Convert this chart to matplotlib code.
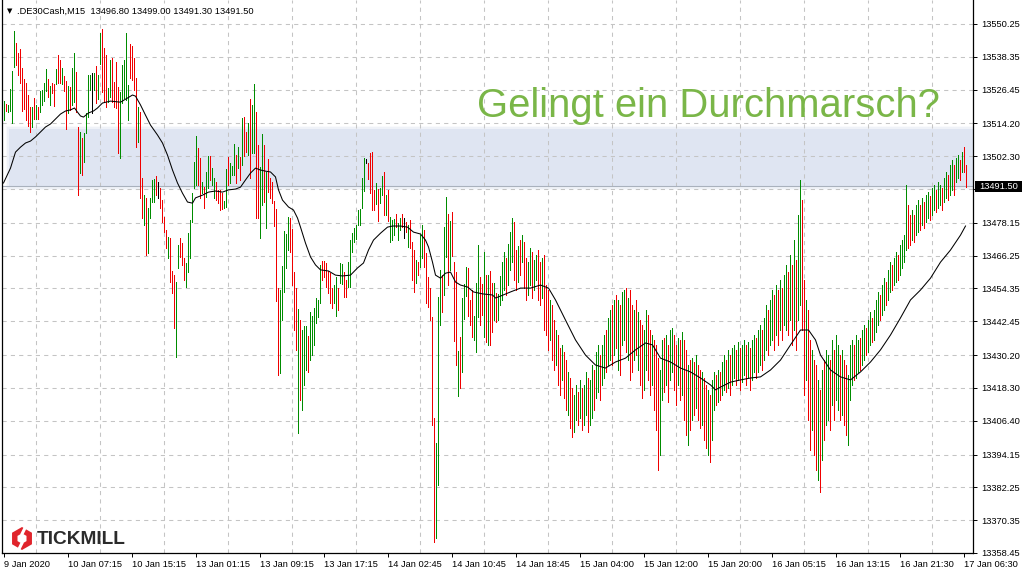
import numpy as np
import matplotlib
matplotlib.use("Agg")
import matplotlib.pyplot as plt
from matplotlib.patches import Rectangle, RegularPolygon, Polygon

# ---------------- data (M15 bars, DE30Cash) ----------------
A_high = [13522.3, 13521.2, 13521.0, 13526.7, 13533.2, 13547.7, 13543.4, 13539.7, 13541.2, 13534.3, 13530.3, 13528.9, 13524.5, 13520.2, 13520.2, 13523.4, 13520.9, 13520.2, 13526.0, 13526.3, 13528.9, 13533.9, 13530.3, 13527.8, 13528.9, 13528.5, 13533.9, 13539.0, 13537.2, 13534.3, 13531.4, 13529.6, 13527.8, 13527.4, 13534.3, 13539.7, 13532.8, 13512.9, 13511.1, 13508.9, 13510.7, 13518.0, 13531.8, 13531.8, 13532.5, 13532.5, 13535.0, 13531.8, 13547.0]
A_low = [13515.4, 13518.7, 13518.3, 13518.7, 13514.4, 13534.6, 13535.4, 13531.8, 13528.9, 13518.7, 13519.4, 13515.4, 13513.3, 13511.1, 13512.9, 13515.8, 13515.8, 13515.8, 13518.3, 13520.9, 13522.3, 13526.0, 13523.8, 13520.9, 13525.2, 13520.5, 13528.5, 13528.9, 13528.9, 13528.5, 13526.0, 13512.2, 13518.0, 13519.1, 13520.9, 13521.9, 13518.3, 13488.2, 13496.2, 13495.5, 13500.2, 13510.7, 13516.5, 13526.3, 13518.0, 13526.3, 13521.6, 13523.1, 13535.7]
A_dir = "GRGGGGRRRRRRRRGRGRGGGGRGRRGRRGRRGRGGRRGRGGGGKGRGG"

B_high = [13548.4, 13541.5, 13539.0, 13527.0, 13537.2, 13537.9, 13529.2, 13536.5, 13527.4, 13525.6, 13535.4, 13537.2, 13547.0, 13528.1, 13543.0, 13542.3, 13537.9, 13530.7, 13520.2, 13518.3, 13494.4, 13488.2, 13487.2, 13483.5, 13487.2, 13493.7, 13494.0, 13495.1, 13492.9, 13490.8, 13486.4, 13480.3, 13475.6, 13473.0, 13472.6, 13460.7, 13459.2, 13456.7, 13470.1, 13472.6, 13470.8, 13465.4, 13463.6, 13474.4, 13479.2, 13489.0, 13500.2, 13509.6, 13505.3, 13501.7]
B_low = [13525.6, 13521.9, 13520.2, 13521.9, 13523.8, 13521.9, 13520.2, 13519.8, 13503.5, 13501.7, 13521.6, 13523.4, 13522.7, 13515.4, 13530.7, 13529.9, 13526.3, 13505.7, 13507.5, 13487.2, 13479.9, 13477.4, 13466.5, 13467.2, 13479.9, 13485.7, 13485.7, 13488.2, 13487.2, 13483.5, 13478.5, 13474.8, 13469.0, 13465.4, 13456.7, 13452.7, 13440.0, 13429.5, 13461.8, 13465.8, 13462.9, 13457.4, 13454.9, 13460.4, 13465.4, 13478.5, 13490.8, 13491.9, 13491.9, 13487.2]
B_dir = "RRRGGRRRRGGGGGRRRRGRRGRGGGGRKRRRRGRRRGGRRRGGGGGGRR"

C_high = [13492.9, 13491.1, 13496.6, 13502.4, 13502.4, 13498.0, 13494.4, 13492.9, 13490.1, 13490.1, 13489.0, 13486.1, 13497.7, 13502.0, 13499.8, 13498.8, 13506.7, 13502.7, 13505.6, 13502.0, 13516.2, 13516.5, 13511.1, 13514.3, 13523.1, 13520.9, 13528.5, 13518.3, 13506.4, 13498.4, 13510.4, 13506.4, 13496.6, 13501.3, 13494.4, 13492.9, 13486.1, 13483.2, 13454.5, 13453.8, 13462.5, 13475.2, 13474.1, 13480.3, 13479.9, 13475.9, 13460.3, 13454.5, 13446.9, 13442.9]
C_low = [13488.9, 13483.5, 13487.5, 13490.8, 13493.7, 13491.9, 13487.2, 13486.4, 13485.3, 13482.8, 13483.2, 13483.5, 13483.9, 13491.9, 13492.6, 13495.5, 13495.5, 13492.6, 13498.0, 13493.7, 13499.1, 13502.4, 13503.8, 13502.7, 13494.4, 13503.5, 13503.5, 13479.9, 13479.9, 13472.6, 13484.6, 13485.7, 13476.3, 13489.3, 13487.2, 13485.3, 13477.0, 13449.8, 13423.0, 13423.7, 13442.9, 13453.1, 13461.8, 13468.3, 13467.6, 13455.6, 13439.3, 13432.1, 13401.9, 13413.9]
C_dir = "GRGGRGGRRRRGGRGGGRGRGRRGRGGRRGGRGRRRRRRGGGGGRRRRGR"

D_high = [13439.3, 13440.7, 13440.7, 13437.1, 13445.8, 13444.4, 13447.3, 13450.9, 13450.2, 13462.9, 13464.3, 13464.3, 13463.6, 13460.7, 13460.0, 13454.5, 13455.6, 13458.5, 13454.5, 13463.6, 13463.2, 13460.3, 13457.4, 13463.9, 13471.9, 13474.4, 13476.3, 13477.4, 13482.8, 13483.2, 13494.4, 13501.7, 13501.3, 13499.8, 13503.5, 13503.8, 13490.1, 13492.6, 13490.4, 13490.8, 13495.1, 13496.6, 13488.2, 13490.1, 13480.3, 13479.2, 13479.5, 13481.4, 13478.1, 13479.9]
D_low = [13410.3, 13419.4, 13424.8, 13424.1, 13428.4, 13430.2, 13433.9, 13441.8, 13444.0, 13449.1, 13457.4, 13458.5, 13454.9, 13452.7, 13449.1, 13447.3, 13449.1, 13444.4, 13446.6, 13456.3, 13456.0, 13451.3, 13451.3, 13454.9, 13454.9, 13467.6, 13471.2, 13472.3, 13477.4, 13477.4, 13483.5, 13489.7, 13499.8, 13494.0, 13488.9, 13482.8, 13482.8, 13485.0, 13478.8, 13485.3, 13488.2, 13481.0, 13481.0, 13478.8, 13471.2, 13471.9, 13473.7, 13476.6, 13471.9, 13475.6]
D_dir = "GGGRGGGGGGRRRRRRGGRGGRRGGGGGGGGGKRRRRGRGGRGRGGGRGG"

E_high = [13481.4, 13479.9, 13478.5, 13477.4, 13479.2, 13471.2, 13468.3, 13464.7, 13463.9, 13473.7, 13477.4, 13475.6, 13467.2, 13458.5, 13454.5, 13444.0, 13407.4, 13398.3, 13451.3, 13461.1, 13459.2, 13476.6, 13487.5, 13481.4, 13478.8, 13482.1, 13463.9, 13460.3, 13431.7, 13436.7, 13450.9, 13456.0, 13462.1, 13461.8, 13450.2, 13453.8, 13444.4, 13456.3, 13470.1, 13458.5, 13456.0, 13467.6, 13459.2, 13459.2, 13460.7, 13456.3, 13456.3, 13452.7, 13452.3, 13458.8]
E_low = [13476.6, 13472.6, 13474.8, 13469.4, 13469.0, 13457.4, 13453.1, 13456.3, 13459.2, 13462.1, 13465.4, 13462.1, 13449.1, 13447.6, 13442.9, 13404.8, 13362.4, 13363.9, 13383.1, 13441.1, 13445.8, 13452.0, 13465.8, 13455.6, 13461.1, 13466.1, 13435.3, 13426.6, 13415.4, 13418.3, 13424.1, 13443.3, 13451.6, 13444.4, 13441.1, 13436.7, 13435.7, 13431.3, 13444.0, 13441.1, 13444.7, 13436.7, 13434.9, 13433.9, 13433.9, 13438.6, 13442.9, 13442.2, 13442.9, 13448.4]
E_dir = "RKRGRRRGRGGRRRRRRGGGRGGRGRRRGRGGGRRRGGGRRGRGRRGRGG"

F_high = [13463.9, 13467.6, 13465.4, 13470.5, 13474.8, 13479.9, 13478.5, 13468.3, 13469.8, 13471.9, 13473.7, 13471.2, 13465.4, 13463.9, 13469.0, 13467.6, 13464.7, 13466.5, 13468.3, 13463.9, 13465.4, 13466.5, 13455.6, 13453.8, 13450.2, 13448.4, 13442.9, 13439.3, 13437.5, 13432.8, 13433.9, 13431.3, 13428.4, 13424.1, 13421.9, 13418.3, 13415.7, 13419.4, 13416.8, 13421.2, 13418.3, 13419.4, 13424.1, 13421.9, 13421.2, 13426.6, 13424.8, 13431.3, 13433.9, 13430.2]
F_low = [13450.2, 13453.8, 13452.0, 13455.6, 13461.1, 13463.9, 13457.4, 13453.8, 13456.7, 13459.2, 13463.9, 13454.5, 13450.2, 13452.0, 13455.6, 13450.9, 13453.8, 13457.4, 13450.2, 13448.4, 13450.9, 13439.3, 13437.5, 13432.1, 13435.7, 13428.4, 13424.8, 13426.6, 13419.4, 13415.7, 13421.2, 13414.6, 13410.3, 13408.5, 13403.8, 13400.5, 13402.3, 13406.7, 13404.9, 13407.4, 13403.1, 13404.9, 13408.5, 13402.3, 13404.9, 13407.4, 13410.3, 13414.6, 13416.8, 13413.9]
F_dir = "GGRGGGRRGRGRRGGRGGRRGRRRGRRGRRGRRGRRGGRGRGGRGGRGGR"

G_high = [13433.9, 13437.5, 13439.3, 13443.7, 13446.6, 13448.4, 13450.2, 13452.0, 13450.2, 13448.4, 13453.1, 13453.8, 13454.5, 13450.9, 13453.8, 13448.4, 13446.6, 13450.2, 13445.8, 13442.9, 13441.1, 13439.3, 13446.6, 13444.7, 13439.3, 13437.5, 13435.7, 13433.9, 13429.1, 13424.8, 13435.7, 13436.4, 13437.5, 13433.9, 13439.3, 13440.0, 13437.5, 13433.9, 13436.4, 13435.7, 13438.6, 13435.7, 13432.1, 13426.6, 13428.4, 13429.1, 13427.7, 13430.2, 13426.6, 13424.8]
G_low = [13419.4, 13421.9, 13424.1, 13426.6, 13428.4, 13426.6, 13430.2, 13432.8, 13424.8, 13423.0, 13433.9, 13435.7, 13431.3, 13428.4, 13421.2, 13424.1, 13428.4, 13430.2, 13424.8, 13419.4, 13414.6, 13417.6, 13424.8, 13421.2, 13415.7, 13419.4, 13410.3, 13403.1, 13388.6, 13394.0, 13413.9, 13416.8, 13419.4, 13413.2, 13421.2, 13424.1, 13417.6, 13412.1, 13419.4, 13413.9, 13415.7, 13406.7, 13401.2, 13397.6, 13403.1, 13406.7, 13408.5, 13411.0, 13406.7, 13403.8]
G_dir = "GGRGGRGRGRGGRGRRGRGRRGGRRGRRRGGRGRGGRRGRGRRGRGRGRR"

H_high = [13424.1, 13421.9, 13419.4, 13417.6, 13415.7, 13421.2, 13424.1, 13423.0, 13424.8, 13424.1, 13427.7, 13430.2, 13428.4, 13432.1, 13430.2, 13432.8, 13433.9, 13432.1, 13434.9, 13432.8, 13433.9, 13435.7, 13433.9, 13434.9, 13432.8, 13435.7, 13437.5, 13436.4, 13439.3, 13441.1, 13439.3, 13443.7, 13448.4, 13446.6, 13450.2, 13453.8, 13452.0, 13455.6, 13453.8, 13457.4, 13454.5, 13459.2, 13462.9, 13460.3, 13466.5, 13462.9, 13471.9, 13464.7, 13481.0, 13493.7]
H_low = [13404.9, 13399.4, 13396.5, 13394.0, 13391.4, 13399.4, 13410.3, 13412.1, 13413.2, 13413.9, 13415.7, 13417.6, 13416.8, 13418.3, 13415.7, 13419.4, 13421.9, 13419.4, 13421.2, 13417.6, 13420.4, 13423.0, 13419.4, 13421.9, 13417.6, 13421.2, 13424.1, 13421.9, 13424.1, 13426.6, 13424.8, 13428.4, 13432.1, 13430.2, 13433.9, 13435.7, 13432.1, 13437.5, 13433.9, 13439.3, 13435.7, 13441.1, 13439.3, 13437.5, 13442.9, 13433.9, 13439.3, 13432.1, 13442.9, 13448.4]
H_dir = "GRRGRGGRGRGGRGRGGRGRGGRGRGGRGGRGGRGGRGRGRGGRGRGRGG"

I_high = [13486.4, 13457.4, 13450.2, 13446.6, 13435.7, 13432.1, 13428.4, 13426.6, 13421.2, 13417.6, 13424.8, 13428.4, 13432.1, 13430.2, 13428.4, 13435.7, 13432.1, 13437.5, 13433.9, 13430.2, 13432.1, 13428.4, 13426.6, 13423.0, 13433.9, 13435.7, 13433.9, 13437.5, 13435.7, 13436.4, 13439.3, 13441.1, 13440.0, 13442.9, 13445.8, 13443.7, 13446.6, 13450.2, 13453.1, 13452.0, 13455.6, 13458.1, 13456.7, 13461.1, 13463.9, 13462.9, 13465.4, 13467.6, 13466.5, 13470.1]
I_low = [13439.3, 13415.7, 13421.2, 13406.7, 13395.8, 13403.1, 13394.0, 13388.6, 13384.9, 13380.6, 13392.2, 13399.4, 13404.9, 13406.7, 13403.1, 13412.1, 13406.7, 13413.9, 13410.3, 13406.7, 13408.5, 13404.9, 13401.2, 13397.6, 13413.9, 13419.4, 13421.2, 13421.9, 13424.1, 13424.8, 13426.6, 13428.4, 13430.2, 13431.3, 13433.9, 13434.9, 13435.7, 13438.6, 13441.1, 13442.9, 13444.7, 13446.6, 13448.4, 13450.2, 13453.1, 13453.8, 13455.6, 13456.7, 13457.4, 13459.2]
I_dir = "RRGRRGRRGRGRGGRGRGGRGRRGGGRGGRGGRGGRGGGRGGRGGRGGRG"

J_high = [13471.9, 13473.7, 13491.9, 13484.6, 13481.0, 13482.8, 13481.0, 13484.6, 13486.4, 13484.6, 13487.2, 13485.7, 13488.2, 13489.3, 13487.9, 13490.8, 13491.9, 13490.1, 13492.9, 13491.9, 13490.8, 13494.4, 13496.6, 13495.5, 13499.1, 13500.9, 13499.1, 13501.6, 13502.7, 13500.9, 13503.8, 13505.5, 13499.0]
J_low = [13461.8, 13463.9, 13468.3, 13469.0, 13470.1, 13471.9, 13471.2, 13473.7, 13474.8, 13475.6, 13477.4, 13476.3, 13478.5, 13479.9, 13479.2, 13481.0, 13482.8, 13482.1, 13483.5, 13484.6, 13482.8, 13485.7, 13487.2, 13486.4, 13488.2, 13490.1, 13488.2, 13492.9, 13494.4, 13493.7, 13496.6, 13496.6, 13491.3]
J_dir = "GGGRRGRGGRGRGGRGGRGGRGGRGGRGGRGRR"

# moving average (read at bar positions)
ma_idx = [0, 3.5, 6, 8.5, 11, 13.5, 16, 18.5, 21, 23.5, 26, 28.5, 31, 33.5, 35.5, 37, 38.5, 40, 42.5, 45, 47, 49.5, 53.5, 58.5, 62, 64.5, 66, 68.5, 71, 73.5, 77, 79.5, 82, 84.5, 87, 89.5, 92, 94.5, 96, 99.5, 102.5, 106, 109.5, 112.5, 116, 118.5, 121, 123.5, 126, 128.5, 131, 133.5, 136, 137.5, 139.5, 142.5, 145, 147, 148.5, 151, 153.5, 156, 158.5, 162.5, 166, 169.5, 173.5, 177, 180, 182.5, 185, 188.5, 192, 194.5, 198.5, 202, 205, 208.5, 211, 212.5, 214.5, 216, 218.5, 221, 223.5, 226, 228.5, 232, 235, 239.5, 244.5, 246, 248.5, 253.5, 258.5, 263.5, 268.5, 272.5, 276, 281, 286, 291, 296, 301, 306, 311, 316, 321, 324.5, 328.5, 333.5, 338.5, 343.5, 348.5, 353.5, 356, 358.5, 363.5, 368.5, 373.5, 378.5, 383.5, 388.5, 393.5, 398.5, 402.5, 406, 408.5, 413.5, 418.5, 423.5, 428.5, 433.5, 438.5, 443.5, 448.5, 453.5, 458.5, 463.5, 468.5, 473.5, 478.5, 481]
ma_val = [13492.6, 13498.0, 13503.8, 13505.6, 13507.1, 13507.8, 13509.3, 13511.1, 13512.9, 13514.0, 13515.8, 13517.6, 13518.7, 13519.1, 13519.8, 13518.3, 13516.9, 13516.5, 13518.0, 13518.7, 13519.8, 13521.6, 13522.3, 13521.9, 13523.4, 13524.5, 13524.1, 13520.9, 13517.2, 13513.6, 13510.0, 13507.1, 13502.7, 13497.3, 13492.6, 13488.9, 13485.7, 13485.3, 13487.2, 13488.2, 13489.3, 13489.7, 13489.3, 13490.1, 13490.4, 13491.1, 13493.7, 13496.2, 13498.0, 13497.3, 13496.9, 13496.6, 13494.8, 13490.1, 13486.4, 13483.9, 13482.8, 13479.9, 13476.6, 13470.8, 13465.8, 13462.9, 13461.1, 13460.7, 13459.2, 13458.9, 13459.2, 13461.8, 13463.6, 13468.3, 13471.9, 13474.4, 13476.6, 13477.0, 13477.0, 13476.6, 13474.8, 13474.1, 13471.9, 13469.4, 13463.9, 13459.2, 13458.1, 13459.9, 13460.3, 13456.7, 13455.6, 13454.9, 13453.1, 13452.4, 13452.0, 13450.9, 13451.6, 13453.1, 13454.5, 13454.5, 13455.6, 13454.5, 13450.2, 13442.9, 13435.7, 13430.2, 13426.6, 13425.5, 13427.7, 13429.1, 13432.1, 13434.6, 13433.9, 13429.1, 13427.7, 13425.5, 13424.1, 13421.9, 13419.4, 13417.6, 13418.6, 13420.4, 13421.2, 13421.9, 13422.3, 13424.8, 13428.4, 13433.9, 13439.3, 13439.3, 13435.7, 13430.2, 13424.8, 13422.3, 13421.2, 13424.1, 13427.7, 13432.1, 13437.5, 13443.7, 13450.2, 13453.8, 13458.1, 13463.9, 13468.3, 13473.7, 13477.0]

zone_low, zone_high = 13491.0, 13512.2
last_ohlc = [13496.80, 13499.00, 13491.30, 13491.50]
symbol = ".DE30Cash,M15"

y_ticks = [13550.25, 13538.35, 13526.45, 13514.20, 13502.30, 13490.25, 13478.15, 13466.25,
           13454.35, 13442.45, 13430.20, 13418.30, 13406.40, 13394.15, 13382.25, 13370.35, 13358.45]
hidden_tick = 13490.25   # covered by the current-price label in the reference
x_labels = ["9 Jan 2020", "10 Jan 07:15", "10 Jan 15:15", "13 Jan 01:15", "13 Jan 09:15",
            "13 Jan 17:15", "14 Jan 02:45", "14 Jan 10:45", "14 Jan 18:45", "15 Jan 04:00",
            "15 Jan 12:00", "15 Jan 20:00", "16 Jan 05:15", "16 Jan 13:15", "16 Jan 21:30",
            "17 Jan 06:30"]
headline = "Gelingt ein Durchmarsch?"

# ---------------- assemble ----------------
highs = np.array(A_high + B_high + C_high + D_high + E_high + F_high + G_high + H_high + I_high + J_high)
lows = np.array(A_low + B_low + C_low + D_low + E_low + F_low + G_low + H_low + I_low + J_low)
dirs = A_dir + B_dir + C_dir + D_dir + E_dir + F_dir + G_dir + H_dir + I_dir + J_dir
n = min(len(highs), len(lows), len(dirs))
highs, lows, dirs = highs[:n], lows[:n], dirs[:n]
xs = np.arange(n)
cmap = {'G': '#008c00', 'R': '#f00000', 'K': '#000000'}
cols = [cmap[c] for c in dirs]

plt.rcParams['font.family'] = ['Liberation Sans', 'DejaVu Sans']

W, H = 1024, 576
fig = plt.figure(figsize=(W / 100, H / 100), dpi=100)
fig.patch.set_facecolor('white')
L, R, B, T = 2, 973, 553, 0
ax = fig.add_axes([L / W, (H - B) / H, (R - L) / W, (B - T) / H])
ax.set_xlim(-0.75, 484.75)
ax.set_ylim(13358.45, 13558.95)
ax.set_facecolor('white')

# zone band with soft edges
for pad, a in [(3.0, 0.18), (1.8, 0.35), (0.0, 1.0)]:
    ax.add_patch(Rectangle((2.5 - pad * 0.5, zone_low - pad * 0.363),
                           490, (zone_high - zone_low) + 2 * pad * 0.363,
                           facecolor='#dfe5f2', edgecolor='none', alpha=a, zorder=0.2))

# grid
ax.set_axisbelow(True)
ax.set_yticks(y_ticks)
ax.set_yticklabels(["" if v == hidden_tick else f"{v:.2f}" for v in y_ticks])
ax.set_xticks(np.arange(len(x_labels)) * 32)
ax.set_xticklabels(x_labels)
ax.set_xticks(np.arange(0, 481, 16), minor=True)
gkw = dict(color='#c4c4c4', linestyle=(0, (4, 4)), linewidth=0.75)
ax.grid(True, axis='y', which='major', **gkw)
ax.grid(True, axis='x', which='minor', **gkw)
ax.tick_params(axis='x', which='minor', length=0)

# last price line
ax.axhline(last_ohlc[3], color='#a9b1bd', lw=0.8, zorder=1)

# bars (1 px wide)
ax.vlines(xs, lows, highs, colors=cols, linewidth=0.6, antialiased=False, zorder=2)
# moving average
ax.plot(ma_idx, ma_val, color='black', lw=0.75, zorder=3)

# axes styling
ax.yaxis.tick_right()
ax.spines['top'].set_visible(False)
for s in ['left', 'right', 'bottom']:
    ax.spines[s].set_color('black')
    ax.spines[s].set_linewidth(0.9)
ax.tick_params(axis='y', which='major', direction='out', length=3, width=0.7, pad=3,
               labelsize=6.7, colors='black')
ax.tick_params(axis='x', which='major', direction='out', length=3, width=0.7, pad=2,
               labelsize=6.7, colors='black')
for lbl in ax.get_xticklabels():
    lbl.set_ha('left')

# overlay for decorations in pixel space
ov = fig.add_axes([0, 0, 1, 1], zorder=10)
ov.set_xlim(0, W)
ov.set_ylim(H, 0)
ov.axis('off')
ov.patch.set_alpha(0)

# header
ov.text(9.5, 11, "\u25BC", fontsize=5, ha='center', va='center', color='black',
        family=['DejaVu Sans'])
ov.text(17, 11, f"{symbol}  " + " ".join(f"{v:.2f}" for v in last_ohlc),
        fontsize=6.7, ha='left', va='center', color='black')

# price label box
ov.add_patch(Rectangle((975, 180.5), 47, 11, facecolor='black', edgecolor='none'))
ov.text(998.5, 186.2, f"{last_ohlc[3]:.2f}", color='white', fontsize=6.7,
        ha='center', va='center')

# headline
ov.text(477, 117, headline, color='#7ab648', fontsize=28.8, ha='left', va='baseline')

# Tickmill logo
cx, cy = 22, 538.5
ov.add_patch(RegularPolygon((cx, cy), 6, radius=11.5, orientation=0,
                            facecolor='#e0242b', edgecolor='none'))
ov.add_patch(RegularPolygon((cx, cy), 6, radius=5.2, orientation=0,
                            facecolor='white', edgecolor='none'))
ov.add_patch(Polygon([(cx + 2, cy - 12), (cx + 5.5, cy - 12), (cx + 1.5, cy - 4), (cx - 2, cy - 4)],
                     closed=True, facecolor='white', edgecolor='none'))
ov.add_patch(Polygon([(cx - 2, cy + 12), (cx - 5.5, cy + 12), (cx - 1.5, cy + 4), (cx + 2, cy + 4)],
                     closed=True, facecolor='white', edgecolor='none'))
ov.text(37, 539, "TICKMILL", fontsize=13.8, fontweight='bold', color='#2b2b2b',
        ha='left', va='center')

fig.savefig("out.png", dpi=100, facecolor='white')
